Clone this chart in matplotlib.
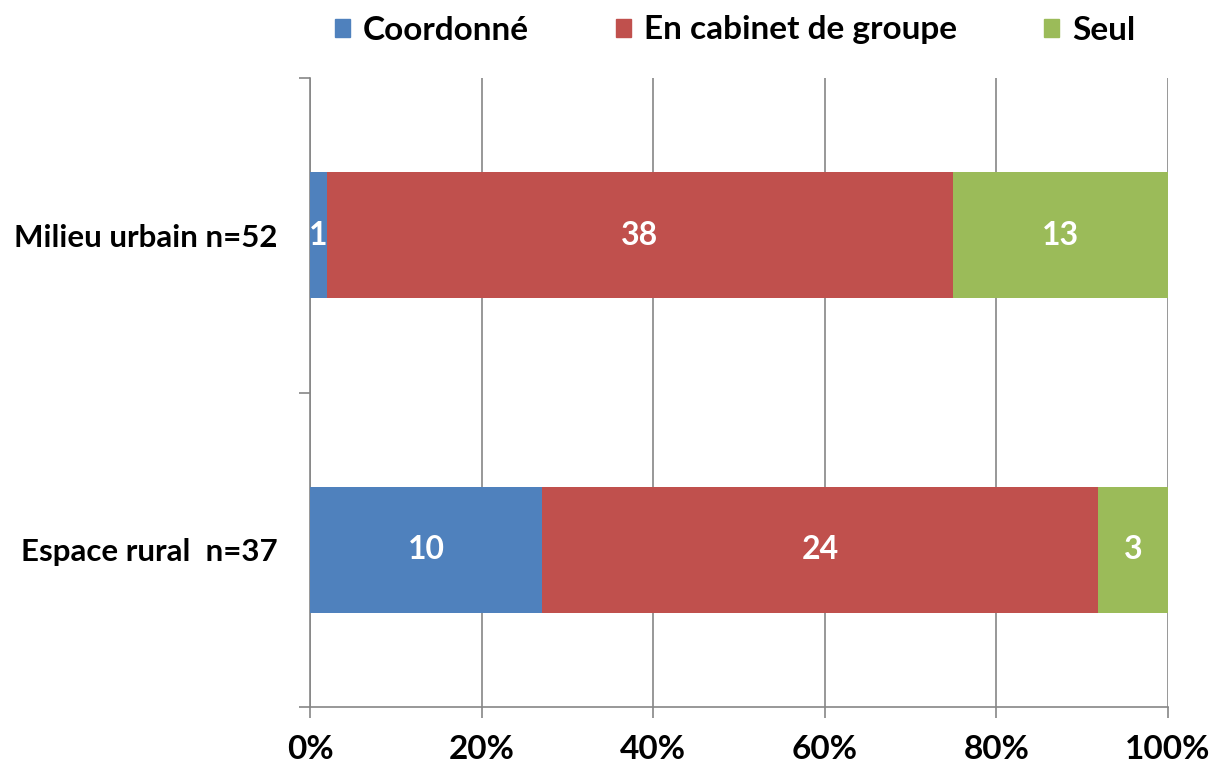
import matplotlib
matplotlib.use("Agg")
import matplotlib.pyplot as plt
from matplotlib.patches import Patch
import numpy as np

categories = ["Espace rural  n=37", "Milieu urbain n=52"]
series_names = ["Coordonné", "En cabinet de groupe", "Seul"]
coordonne = [10, 1]
cabinet = [24, 38]
seul = [3, 13]
colors = ["#4F81BD", "#C0504D", "#9BBB59"]
xticklabels = ["0%", "20%", "40%", "60%", "80%", "100%"]

plt.rcParams['font.family'] = ['Lato', 'DejaVu Sans']
plt.rcParams['font.weight'] = 'bold'

fig = plt.figure(figsize=(12.09, 7.62), dpi=100)
ax = fig.add_axes([310/1209, 1-707/762, (1168-310)/1209, (707-78)/762])

data = np.array([coordonne, cabinet, seul], dtype=float)
totals = data.sum(axis=0)
pct = data / totals * 100
y = np.arange(len(categories))
left = np.zeros(len(categories))
for i, name in enumerate(series_names):
    ax.barh(y, pct[i], left=left, height=0.4, color=colors[i], label=name, zorder=3)
    for j in range(len(categories)):
        ax.text(left[j] + pct[i][j] / 2, y[j], f"{int(data[i][j])}", ha="center", va="center",
                color="white", fontsize=23, fontweight="bold", zorder=4)
    left += pct[i]

ax.set_xlim(0, 100)
ax.set_ylim(-0.5, 1.5)
ax.set_xticks(np.arange(0, 101, 20))
ax.set_xticklabels(xticklabels, fontsize=24, fontweight="bold")
ax.set_yticks(y)
ax.set_yticklabels(categories, fontsize=22.5, fontweight="bold")
ax.tick_params(axis="y", length=0, pad=23.5)
ax.set_yticks([-0.5, 0.5, 1.5], minor=True)
ax.tick_params(axis="y", which="minor", length=8, color="#868686", width=1.2)
ax.tick_params(axis="x", length=8, color="#868686", width=1.2, pad=12)
ax.grid(axis="x", color="#868686", linewidth=1.2, zorder=0)
for s in ["top", "right"]:
    ax.spines[s].set_visible(False)
for s in ["left", "bottom"]:
    ax.spines[s].set_color("#868686")
    ax.spines[s].set_linewidth(1.2)

handles = [Patch(color=c, label=n) for c, n in zip(colors, series_names)]
fig.legend(handles=handles, loc="center", bbox_to_anchor=(735/1209, 1-30/762), ncol=3,
           frameon=False, fontsize=24, handlelength=0.45, handleheight=0.45,
           handletextpad=0.4, columnspacing=2.6)

fig.savefig("out.png", dpi=100)
